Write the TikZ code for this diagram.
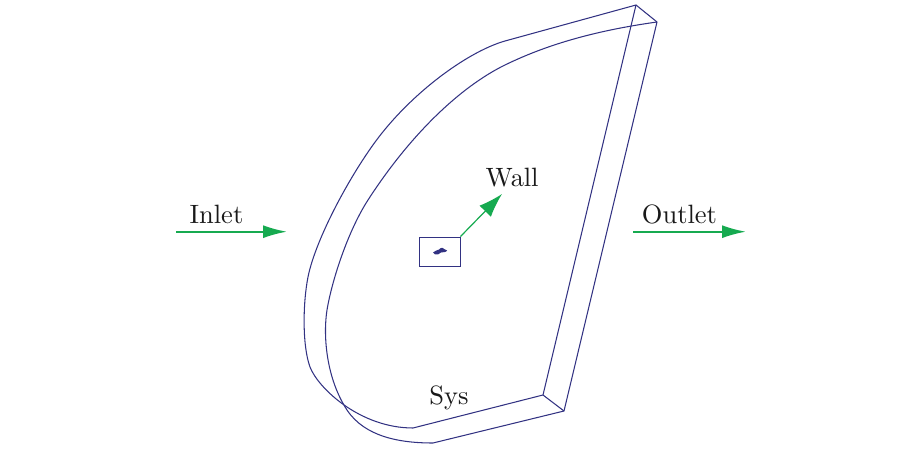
\documentclass[tikz,border=0pt]{standalone}
\usetikzlibrary{arrows.meta}
\definecolor{edgeblue}{RGB}{50,50,130}
\definecolor{flowgreen}{RGB}{22,170,80}
\font\labfont=cmr10 at 26.5pt
\tikzset{
  geom/.style={draw=edgeblue,line width=1.05pt,line join=round},
  flow/.style={draw=flowgreen,line width=1.9pt,-{Latex[length=24pt,width=13pt]}},
  flowbig/.style={draw=flowgreen,line width=1.2pt,-{Latex[length=24pt,width=16pt]}},
  lab/.style={font=\labfont,text=black!90,inner sep=0pt,anchor=base}
}
\begin{document}
\begin{tikzpicture}[x=1pt,y=-1pt]
\useasboundingbox (0,0) rectangle (922,449);
% geometry corners
\coordinate (at) at (636,5);
\coordinate (bt) at (657,22);
\coordinate (ab) at (543,395);
\coordinate (bb) at (564,411);
% back outline
\draw[geom] (at) -- (505,41)
  .. controls (470,51) and (418,88) .. (382,133)
  .. controls (354,168) and (316,237) .. (308,277)
  .. controls (303,302) and (302,345) .. (310,367)
  .. controls (318,388) and (360,428) .. (413,428)
  -- (ab) -- cycle;
% front outline
\draw[geom] (bt)
  .. controls (600,30) and (550,43) .. (505,65)
  .. controls (460,87) and (410,135) .. (368,200)
  .. controls (348,231) and (332,280) .. (327,310)
  .. controls (323,335) and (326,378) .. (347,410)
  .. controls (365,437) and (400,443) .. (433,443)
  -- (bb) -- cycle;
\draw[geom] (at) -- (bt);
\draw[geom] (ab) -- (bb);
% wall box
\node[draw=edgeblue,line width=0.9pt,minimum width=41pt,minimum height=29pt,inner sep=0pt] (box) at (439.5,251.5) {};
\fill[edgeblue] (433,252.5) .. controls (435,250) and (437,251) .. (439,249.5) .. controls (441,247) and (444,247.5) .. (445,249.5) -- (447,250.5) .. controls (447,252) and (443,252.5) .. (441,252.5) .. controls (439,254) and (437,255.5) .. (435,254.5) -- cycle;
% labels
\node[lab] (inlet) at (216.5,224) {Inlet};
\node[lab] (outlet) at (679.5,224) {Outlet};
\node[lab] (wall) at (512,187) {Wall};
\node[lab] (sys) at (449,404) {Sys};
% arrows
\coordinate (i0) at (176,231.7); \coordinate (i1) at (287,231.7);
\coordinate (o0) at (633,231.7); \coordinate (o1) at (746,231.7);
\coordinate (w1) at (502,194);
\draw[flow] (i0) -- (i1);
\draw[flow] (o0) -- (o1);
\draw[flowbig] (box.north east) -- (w1);
\end{tikzpicture}
\end{document}
